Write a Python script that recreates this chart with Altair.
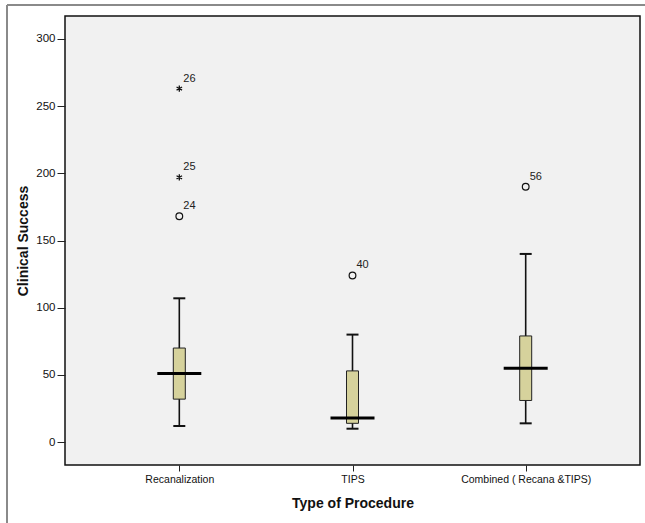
import altair as alt
import pandas as pd

categories = ["Recanalization", "TIPS", "Combined ( Recana &TIPS)"]
whisker_low = [12, 10, 14]
q1 = [32, 14, 31]
median = [51, 18, 55]
q3 = [70, 53, 79]
whisker_high = [107, 80, 140]

out_cat = ["Recanalization", "Recanalization", "Recanalization", "TIPS", "Combined ( Recana &TIPS)"]
out_val = [168, 197, 263, 124, 190]
out_label = ["24", "25", "26", "40", "56"]
out_kind = ["circle", "star", "star", "circle", "circle"]

box = pd.DataFrame({"cat": categories, "lo": whisker_low, "q1": q1, "med": median,
                    "q3": q3, "hi": whisker_high})
outl = pd.DataFrame({"cat": out_cat, "val": out_val, "label": out_label, "kind": out_kind})

FONT = "Liberation Sans"
xenc = alt.X("cat:N", sort=categories,
             scale=alt.Scale(type="point", padding=0.66),
             axis=alt.Axis(title="Type of Procedure", labelAngle=0, domain=False,
                           tickSize=6, labelPadding=3, titlePadding=12,
                           tickColor="#222", labelColor="#111", labelFontSize=10.5,
                           titleFontSize=14, titleFontWeight="bold", titleColor="#111",
                           labelFont=FONT, titleFont=FONT))
yscale = alt.Scale(domain=[-17, 317], nice=False, zero=False)
yaxis = alt.Axis(title="Clinical Success", values=[0, 50, 100, 150, 200, 250, 300],
                 grid=False, domain=False, tickSize=8, labelPadding=2, titlePadding=5,
                 tickColor="#222", labelColor="#111", labelFontSize=11.5,
                 titleFontSize=14, titleFontWeight="bold", titleColor="#111",
                 labelFont=FONT, titleFont=FONT)

base = alt.Chart(box).encode(x=xenc)

whisk = base.mark_rule(color="#111", strokeWidth=1.6, opacity=1).encode(
    y=alt.Y("lo:Q", scale=yscale, axis=yaxis), y2="hi:Q")
cap_lo = base.mark_tick(color="#111", size=12, thickness=2, orient="horizontal", opacity=1).encode(y="lo:Q")
cap_hi = base.mark_tick(color="#111", size=12, thickness=2, orient="horizontal", opacity=1).encode(y="hi:Q")
bars = base.mark_bar(size=12, color="#d6d29c", stroke="#222", strokeWidth=1, opacity=1).encode(
    y="q1:Q", y2="q3:Q")
med = base.mark_tick(color="#000", size=44, thickness=3, orient="horizontal", opacity=1).encode(y="med:Q")

ob = alt.Chart(outl)
circ = ob.transform_filter(alt.datum.kind == "circle").mark_point(
    shape="circle", size=45, filled=False, color="#111", strokeWidth=1.2, opacity=1
).encode(x=alt.X("cat:N", sort=categories), y="val:Q")
star = ob.transform_filter(alt.datum.kind == "star").mark_point(
    shape="M0,-1L0,1M-0.87,-0.5L0.87,0.5M-0.87,0.5L0.87,-0.5", size=40, filled=False,
    color="#111", strokeWidth=1.3, opacity=1
).encode(x=alt.X("cat:N", sort=categories), y="val:Q")
labels = ob.mark_text(align="left", baseline="middle", dx=4, dy=-10, fontSize=11,
                      font=FONT, color="#222").encode(
    x=alt.X("cat:N", sort=categories), y="val:Q", text="label:N")

frame_top = alt.Chart(box).mark_rule(color="#8a8a8a", strokeWidth=2, clip=False).encode(
    x=alt.value(-58), x2=alt.value(590), y=alt.value(-11))
frame_left = alt.Chart(box).mark_rule(color="#8a8a8a", strokeWidth=2, clip=False).encode(
    x=alt.value(-58), y=alt.value(-11), y2=alt.value(520))

chart = alt.layer(frame_top, frame_left, whisk, cap_lo, cap_hi, bars, med, circ, star, labels).properties(
    width=575, height=449,
    padding={"left": 65, "top": 16, "right": 5, "bottom": 58},
    autosize=alt.AutoSizeParams(type="none"),
    background="white",
).configure_view(fill="#f1f1f1", stroke="#111", strokeWidth=1.5)

chart.save("out.html", embed_options={"renderer": "svg", "actions": False})
